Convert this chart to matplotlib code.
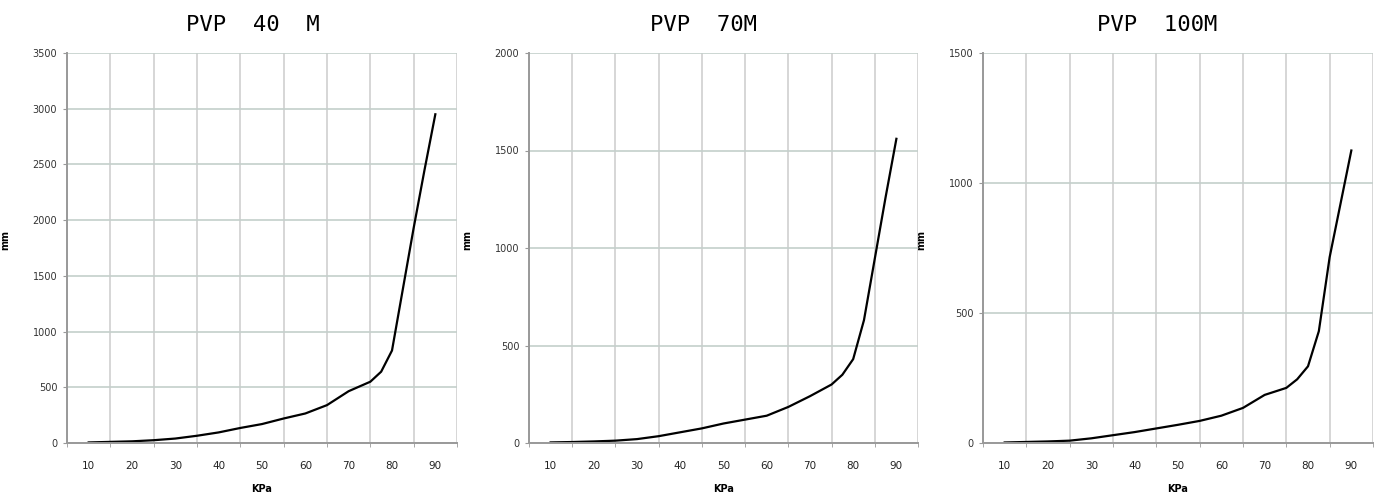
import matplotlib.pyplot as plt
import numpy as np

# ====================================

kpa = [10, 15, 20, 25, 30, 35, 40, 45, 50, 55, 60, 65, 70, 75, 77.5, 80, 82.5, 85, 87.5, 90]

pvp40 = [5, 10, 15, 25, 40, 65, 95, 135, 170, 220, 265, 340, 465, 550, 640, 830, 1380, 1930, 2450, 2950]
pvp70 = [3, 5, 8, 12, 20, 35, 55, 75, 100, 120, 140, 185, 240, 300, 350, 430, 630, 945, 1260, 1560]
pvp100 = [2, 4, 6, 9, 18, 30, 42, 56, 70, 85, 105, 135, 185, 212, 245, 295, 430, 715, 920, 1125]

titles = ["PVP  40  M", "PVP  70M", "PVP  100M"]
y_max = [3500, 2000, 1500]
x_ticks = [10, 20, 30, 40, 50, 60, 70, 80, 90]

# ====================================

fig = plt.figure(figsize=(13.8, 4.92), dpi=100)

boxes = [(67, 457), (529, 918), (983, 1373)]
title_x = [253, 703, 1157]

series = [pvp40, pvp70, pvp100]

for i in range(3):
    left, right = boxes[i]
    ax = fig.add_axes([left/1380, 1-443/492, (right-left)/1380, 390/492])

    ax.plot(kpa, series[i], color="black", linewidth=1.6)

    ax.set_xlim(5, 95)
    ax.set_ylim(0, y_max[i])
    ax.set_xticks(x_ticks)
    ax.set_xticks(np.arange(5, 96, 10), minor=True)
    ax.set_yticks(np.arange(0, y_max[i]+1, 500))

    ax.grid(True, which="minor", axis="x", color="#cfcfcf", linewidth=1.2)
    ax.grid(True, which="major", axis="y", color="#c4cfcb", linewidth=1.2)
    ax.set_axisbelow(True)

    ax.tick_params(axis="x", which="major", length=0, labelsize=7.5,
                   colors="#222222", pad=13)
    ax.tick_params(axis="x", which="minor", length=3, color="#999999")
    ax.tick_params(axis="y", length=3, color="#999999", labelsize=7,
                   colors="#333333", pad=4)

    for s in ["top", "right"]:
        ax.spines[s].set_visible(False)
    ax.spines["left"].set_color("#999999")
    ax.spines["bottom"].set_color("#999999")
    ax.spines["left"].set_linewidth(1.4)
    ax.spines["bottom"].set_linewidth(1.4)

    ax.set_xlabel("KPa", fontsize=7, fontweight="bold", labelpad=9)
    ax.set_ylabel("mm", fontsize=7, fontweight="bold", labelpad=14)
    ax.yaxis.set_label_coords(-0.145, 0.52)

    fig.text(title_x[i]/1380, 1-25/492, titles[i], ha="center", va="center",
             fontsize=16, family="DejaVu Sans Mono")

plt.savefig("out.png", dpi=100)
